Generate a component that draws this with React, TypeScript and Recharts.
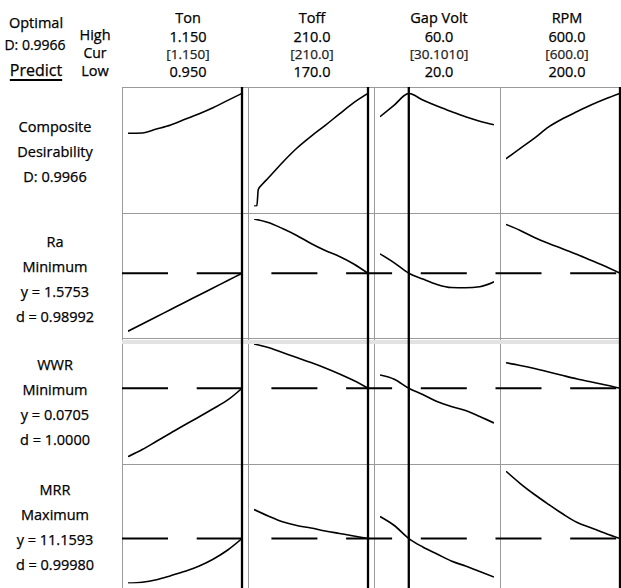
import React from "react";
import { LineChart, Line, XAxis, YAxis, ReferenceLine } from "recharts";

// ---------- factor settings ----------
const factorNames = ["Ton", "Toff", "Gap Volt", "RPM"];
const highLabels = ["1.150", "210.0", "60.0", "600.0"];
const curLabels = ["[1.150]", "[210.0]", "[30.1010]", "[600.0]"];
const lowLabels = ["0.950", "170.0", "20.0", "200.0"];
const factorLows = [0.95, 170, 20, 200];
const factorHighs = [1.15, 210, 60, 600];
const factorCurrents = [1.15, 210, 30.101, 600];

// ---------- x grids (factor levels) ----------
const tonLevels = [0.95, 0.975, 1.0, 1.025, 1.05, 1.075, 1.1, 1.125, 1.15];
const toffLevels = [170, 175, 180, 185, 190, 195, 200, 205, 210];
const toffCompositeLevels = [170, 171, 171.5, 173, 175, 180, 185, 190, 195, 200, 205, 210];
const gapVoltLevels = [20, 25, 30.101, 35, 40, 45, 50, 55, 60];
const rpmLevels = [200, 250, 300, 350, 400, 450, 500, 550, 600];

// ---------- composite desirability ----------
const compositeTon = [0.645, 0.648, 0.682, 0.718, 0.768, 0.818, 0.873, 0.935, 0.9966];
const compositeToff = [0.004, 0.004, 0.15, 0.198, 0.251, 0.388, 0.513, 0.618, 0.715, 0.816, 0.915, 0.9966];
const compositeGapVolt = [0.791, 0.894, 0.9966, 0.938, 0.885, 0.837, 0.79, 0.752, 0.72];
const compositeRpm = [0.42, 0.513, 0.603, 0.702, 0.775, 0.837, 0.896, 0.949, 0.9966];

// ---------- responses (scaled 0 = row minimum, 1 = row maximum) ----------
const raTon = [0.011, 0.075, 0.139, 0.203, 0.267, 0.33, 0.394, 0.458, 0.522];
const raToff = [1.0, 0.969, 0.916, 0.855, 0.784, 0.722, 0.67, 0.604, 0.522];
const raGapVolt = [0.693, 0.614, 0.522, 0.471, 0.423, 0.396, 0.394, 0.403, 0.447];
const raRpm = [0.952, 0.899, 0.837, 0.784, 0.736, 0.687, 0.634, 0.581, 0.522];
const raPredicted = 0.522;

const wwrTon = [0.007, 0.07, 0.143, 0.216, 0.289, 0.359, 0.432, 0.507, 0.61];
const wwrToff = [1.0, 0.969, 0.925, 0.881, 0.837, 0.789, 0.736, 0.678, 0.61];
const wwrGapVolt = [0.727, 0.69, 0.61, 0.555, 0.493, 0.449, 0.414, 0.361, 0.304];
const wwrRpm = [0.835, 0.811, 0.784, 0.753, 0.722, 0.692, 0.665, 0.639, 0.61];
const wwrPredicted = 0.61;

const mrrTon = [0.004, 0.011, 0.033, 0.069, 0.108, 0.154, 0.216, 0.295, 0.396];
const mrrToff = [0.652, 0.595, 0.544, 0.511, 0.489, 0.463, 0.441, 0.419, 0.396];
const mrrGapVolt = [0.59, 0.511, 0.396, 0.322, 0.26, 0.198, 0.154, 0.106, 0.057];
const mrrRpm = [0.989, 0.881, 0.784, 0.696, 0.612, 0.537, 0.489, 0.441, 0.396];
const mrrPredicted = 0.396;

// ---------- row labels ----------
const rowLabels = [
  ["Composite", "Desirability", "D: 0.9966"],
  ["Ra", "Minimum", "y = 1.5753", "d = 0.98992"],
  ["WWR", "Minimum", "y = 0.0705", "d = 1.0000"],
  ["MRR", "Maximum", "y = 11.1593", "d = 0.99980"],
];

const rows = [
  {
    xs: [tonLevels, toffCompositeLevels, gapVoltLevels, rpmLevels],
    ys: [compositeTon, compositeToff, compositeGapVolt, compositeRpm],
    pred: undefined as number | undefined,
  },
  { xs: [tonLevels, toffLevels, gapVoltLevels, rpmLevels], ys: [raTon, raToff, raGapVolt, raRpm], pred: raPredicted },
  { xs: [tonLevels, toffLevels, gapVoltLevels, rpmLevels], ys: [wwrTon, wwrToff, wwrGapVolt, wwrRpm], pred: wwrPredicted },
  { xs: [tonLevels, toffLevels, gapVoltLevels, rpmLevels], ys: [mrrTon, mrrToff, mrrGapVolt, mrrRpm], pred: mrrPredicted },
];

// ---------- layout ----------
const W = 621;
const H = 588;
const gridLeft = 122;
const gridTop = 87;
const colW = 126;
const rowH = 125.5;
const pad = 6;
const dashA = 46;
const dashB = 28.7;
const colCenters = [188, 312, 439, 567];
const headerYs = [18.3, 36.5, 54, 72];
const labelTops = [126.7, 241.7, 365, 490];
const labelStep = 25;

function Panel(props: {
  xs: number[];
  ys: number[];
  lo: number;
  hi: number;
  cur: number;
  pred?: number;
  col: number;
}) {
  const { xs, ys, lo, hi, cur, pred, col } = props;
  const data = xs.map((x, i) => ({ x, y: ys[i] }));
  const ext = ((hi - lo) * pad) / (colW - 2 * pad);
  const yext = pad / (rowH - 2 * pad) + 0.012;
  const period = dashA + dashB;
  const offset = (col * colW) % period;
  return (
    <LineChart width={colW} height={rowH} data={data} margin={{ top: pad, right: pad, bottom: pad, left: pad }}>
      <XAxis type="number" dataKey="x" domain={[lo, hi]} hide allowDataOverflow />
      <YAxis type="number" domain={[0, 1]} hide allowDataOverflow />
      {pred !== undefined && (
        <ReferenceLine
          segment={[
            { x: lo - ext, y: pred },
            { x: hi + ext, y: pred },
          ]}
          ifOverflow="visible"
          stroke="#000"
          strokeWidth={1.9}
          strokeDasharray={`${dashA} ${dashB}`}
          strokeDashoffset={offset}
        />
      )}
      <ReferenceLine
        segment={[
          { x: cur, y: -yext },
          { x: cur, y: 1 + yext },
        ]}
        ifOverflow="visible"
        stroke="#000"
        strokeWidth={2.3}
      />
      <Line type="monotone" dataKey="y" stroke="#000" strokeWidth={1.6} dot={false} isAnimationActive={false} />
    </LineChart>
  );
}

function Txt(props: { x: number; y: number; text: string; size?: number; underline?: boolean; color?: string }) {
  const { x, y, text, size = 14.5, underline, color = "#000" } = props;
  return (
    <div
      style={{
        position: "absolute",
        left: x - 80,
        width: 160,
        top: y - 8,
        height: 16,
        lineHeight: "16px",
        textAlign: "center",
        fontSize: size,
        color,
        whiteSpace: "nowrap",
        WebkitTextStroke: "0.25px " + color,
        textDecoration: underline ? "underline" : "none",
        textUnderlineOffset: 3,
        textDecorationThickness: 1.5,
      }}
    >
      {text}
    </div>
  );
}

export default function App() {
  const lineColor = "#9a9a9a";
  const vLines = [0, 1, 2, 3].map((c) => gridLeft + c * colW);
  const hLines = [0, 1, 2, 3].map((r) => Math.round(gridTop + r * rowH));
  return (
    <div
      style={{
        position: "absolute",
        left: 0,
        top: 0,
        width: W,
        height: H,
        overflow: "hidden",
        background: "#fff",
        fontFamily: "'Open Sans', 'Noto Sans', sans-serif",
      }}
    >
      {/* header left */}
      <Txt x={36} y={22.7} text="Optimal" size={14.5} />
      <Txt x={35} y={44.5} text="D: 0.9966" size={14} />
      <Txt x={36} y={70} text="Predict" size={16} underline />
      <Txt x={95} y={35} text="High" size={14.5} />
      <Txt x={95} y={53} text="Cur" size={14} />
      <Txt x={95} y={71} text="Low" size={14.5} />

      {/* factor headers */}
      {factorNames.map((n, c) => (
        <React.Fragment key={n}>
          <Txt x={colCenters[c]} y={headerYs[0]} text={n} size={14.5} />
          <Txt x={colCenters[c]} y={headerYs[1]} text={highLabels[c]} size={14.5} />
          <Txt x={colCenters[c]} y={headerYs[2]} text={curLabels[c]} size={13.5} color="#222" />
          <Txt x={colCenters[c]} y={headerYs[3]} text={lowLabels[c]} size={14.5} />
        </React.Fragment>
      ))}

      {/* row labels */}
      {rowLabels.map((lines, r) =>
        lines.map((t, i) => <Txt key={`${r}-${i}`} x={55} y={labelTops[r] + i * labelStep} text={t} />)
      )}

      {/* panel borders */}
      {vLines.map((x, i) => (
        <div key={`v${i}`} style={{ position: "absolute", left: x, top: gridTop, width: 1, height: H - gridTop, background: lineColor }} />
      ))}
      {hLines.map((y, i) => (
        <div key={`h${i}`} style={{ position: "absolute", left: gridLeft, top: y, width: W - gridLeft, height: 1, background: lineColor }} />
      ))}
      <div style={{ position: "absolute", left: gridLeft, top: hLines[2] + 2, width: W - gridLeft, height: 4, background: "#e2e2e2" }} />

      {/* panels */}
      {rows.map((row, r) =>
        [0, 1, 2, 3].map((c) => (
          <div
            key={`p${r}-${c}`}
            style={{ position: "absolute", left: gridLeft + c * colW, top: gridTop + r * rowH, width: colW, height: rowH }}
          >
            <Panel
              xs={row.xs[c]}
              ys={row.ys[c]}
              lo={factorLows[c]}
              hi={factorHighs[c]}
              cur={factorCurrents[c]}
              pred={row.pred}
              col={c}
            />
          </div>
        ))
      )}
    </div>
  );
}
